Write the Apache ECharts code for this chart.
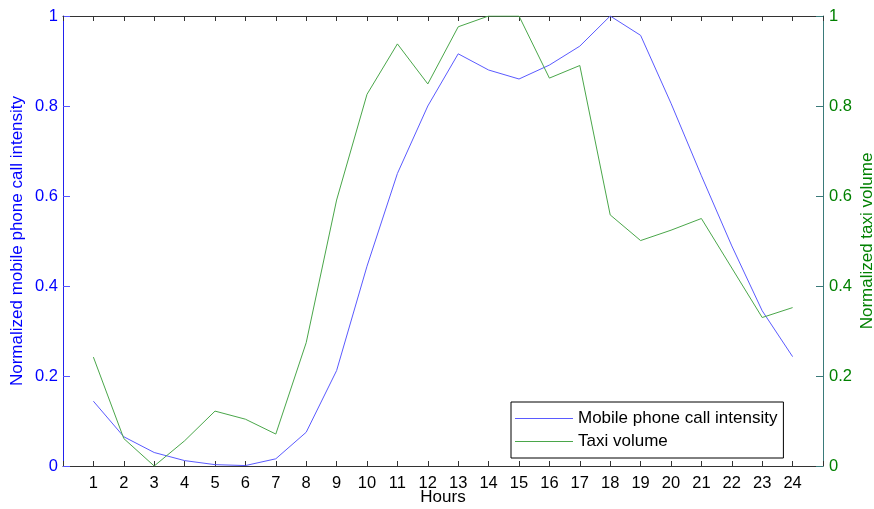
<!DOCTYPE html>
<html>
<head>
<meta charset="utf-8">
<script src="https://cdn.jsdelivr.net/npm/echarts@6/dist/echarts.min.js"></script>
<style>html,body{margin:0;padding:0;background:#fff;}#c{width:874px;height:509px;}</style>
</head>
<body>
<div id="c"></div>
<script>
const hours = [1,2,3,4,5,6,7,8,9,10,11,12,13,14,15,16,17,18,19,20,21,22,23,24];
const phoneIntensity = [0.144,0.065,0.030,0.012,0.003,0.001,0.016,0.075,0.212,0.444,0.650,0.800,0.916,0.880,0.860,0.891,0.933,1.0,0.957,0.806,0.645,0.489,0.345,0.243];
const taxiVolume = [0.242,0.061,0.0,0.056,0.122,0.104,0.071,0.274,0.591,0.826,0.938,0.849,0.976,1.0,1.0,0.862,0.890,0.558,0.501,0.524,0.550,0.440,0.330,0.352];
const yTicks = [0,0.2,0.4,0.6,0.8,1];
const seriesNames = ['Mobile phone call intensity','Taxi volume'];

const FONT = 'Liberation Sans, Arial, sans-serif';
const chart = echarts.init(document.getElementById('c'), null, {renderer:'canvas'});
const fmtY = v => { const r = Math.round(v*10)/10; return yTicks.some(t => Math.abs(t - r) < 1e-9) ? String(r) : ''; };
chart.setOption({
  animation: false,
  backgroundColor: '#fff',
  textStyle: {fontFamily: FONT},
  grid: {left: 63, right: 51, top: 16, bottom: 43, containLabel: false, outerBoundsMode: 'none'},
  legend: {
    left: 511, top: 402, orient: 'vertical',
    data: seriesNames.map(n => ({name: n, icon: 'rect'})),
    itemWidth: 58, itemHeight: 1, itemGap: 6,
    padding: [8, 6, 8, 4],
    borderColor: '#000', borderWidth: 1, backgroundColor: '#fff',
    textStyle: {fontSize: 17, color: '#000', fontFamily: FONT}
  },
  xAxis: [{
    type: 'value', min: 0, max: 25, interval: 1, position: 'bottom',
    name: 'Hours', nameLocation: 'middle', nameGap: 23, nameMoveOverlap: false,
    nameTextStyle: {fontSize: 17, color: '#000', fontFamily: FONT},
    axisLine: {show: true, onZero: false, lineStyle: {color: '#333', width: 1}},
    axisTick: {show: true, inside: true, length: 5, lineStyle: {color: '#333'}},
    axisLabel: {fontSize: 16.5, color: '#000', margin: 9, fontFamily: FONT,
      formatter: v => (v >= 1 && v <= 24) ? String(v) : ''},
    splitLine: {show: false}
  }, {
    type: 'value', min: 0, max: 25, interval: 1, position: 'top',
    axisLine: {show: true, onZero: false, lineStyle: {color: '#333', width: 1}},
    axisTick: {show: true, inside: true, length: 5, lineStyle: {color: '#333'}},
    axisLabel: {show: false},
    splitLine: {show: false}
  }],
  yAxis: [{
    type: 'value', min: 0, max: 1, interval: 0.2, position: 'left',
    name: 'Normalized mobile phone call intensity', nameLocation: 'middle', nameGap: 37, nameMoveOverlap: false,
    nameTextStyle: {fontSize: 17, color: '#0000ff', fontFamily: FONT},
    axisLine: {show: true, onZero: false, lineStyle: {color: '#2222ee', width: 1}},
    axisTick: {show: true, inside: true, length: 7, lineStyle: {color: '#5555ff'}},
    axisLabel: {fontSize: 16.5, color: '#0000ff', margin: 5, fontFamily: FONT, formatter: fmtY},
    splitLine: {show: false}
  }, {
    type: 'value', min: 0, max: 1, interval: 0.2, position: 'right',
    name: 'Normalized taxi volume', nameLocation: 'middle', nameGap: 36, nameMoveOverlap: false,
    nameTextStyle: {fontSize: 17, color: '#008000', fontFamily: FONT},
    axisLine: {show: true, onZero: false, lineStyle: {color: '#3a7a7a', width: 1}},
    axisTick: {show: true, inside: true, length: 7, lineStyle: {color: '#3a7a7a'}},
    axisLabel: {fontSize: 16.5, color: '#008000', margin: 6, fontFamily: FONT, formatter: fmtY},
    splitLine: {show: false}
  }],
  series: [{
    name: seriesNames[0], type: 'line', xAxisIndex: 0, yAxisIndex: 0,
    data: hours.map((h,i) => [h, phoneIntensity[i]]),
    symbol: 'none', lineStyle: {color: '#5a5aff', width: 1}, itemStyle: {color: '#5a5aff'}
  }, {
    name: seriesNames[1], type: 'line', xAxisIndex: 0, yAxisIndex: 1,
    data: hours.map((h,i) => [h, taxiVolume[i]]),
    symbol: 'none', lineStyle: {color: '#4aa64a', width: 1}, itemStyle: {color: '#4aa64a'}
  }]
});
</script>
</body>
</html>
